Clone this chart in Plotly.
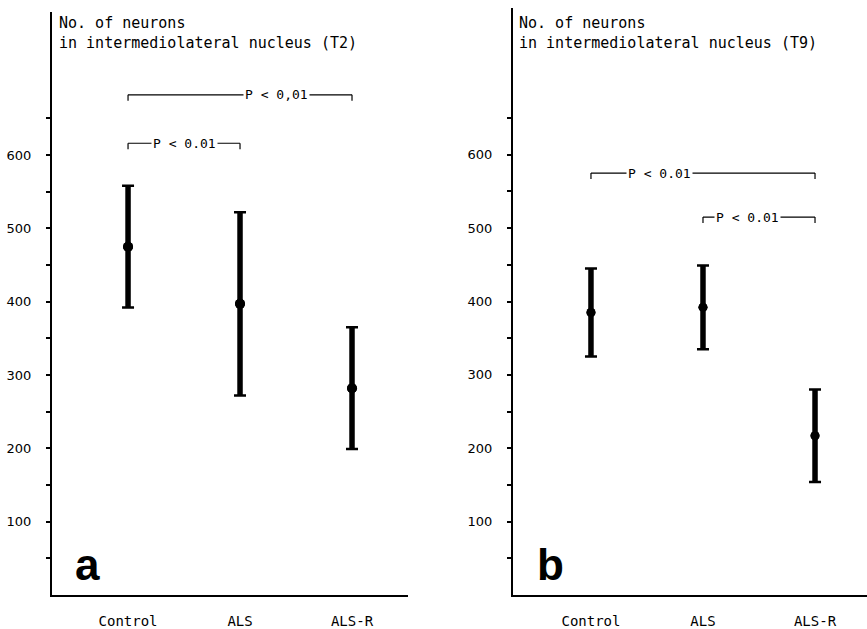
import plotly.graph_objects as go

W, H = 867, 629

categories = ["Control", "ALS", "ALS-R"]
x_pos = [0, 1, 2]

# Panel a (T2)
means_a = [475, 397, 282]
errs_a = [83, 125, 83]
# Panel b (T9)
means_b = [385, 392, 217]
errs_b = [60, 57, 63]

y_tickvals = [50, 100, 150, 200, 250, 300, 350, 400, 450, 500, 550, 600, 650]
y_ticktext = ["", "100", "", "200", "", "300", "", "400", "", "500", "", "600", ""]

# brackets: (x_start, x_end, y_level, label, label_x)
brackets_a = [(0, 2, 682, "P < 0,01", 1.33), (0, 1, 616, "P < 0.01", 0.5)]
brackets_b = [(0, 2, 575, "P < 0.01", 0.61), (1, 2, 515, "P < 0.01", 1.40)]

titles = ["No. of neurons<br>in intermediolateral nucleus (T2)",
          "No. of neurons<br>in intermediolateral nucleus (T9)"]
letters = ["a", "b"]


def px(x):
    return x / W


def py(y):
    return 1 - y / H


fig = go.Figure()

for means, errs, xa, ya, dot in [(means_a, errs_a, "x", "y", 10), (means_b, errs_b, "x2", "y2", 9)]:
    # thick vertical bar
    fig.add_trace(go.Scatter(
        x=x_pos, y=means, xaxis=xa, yaxis=ya, mode="markers",
        marker=dict(color="black", size=dot),
        error_y=dict(type="data", array=errs, visible=True, thickness=5.5, width=0, color="black"),
        showlegend=False, hoverinfo="skip"))
    # caps
    fig.add_trace(go.Scatter(
        x=x_pos, y=means, xaxis=xa, yaxis=ya, mode="markers",
        marker=dict(color="black", size=dot),
        error_y=dict(type="data", array=errs, visible=True, thickness=2.5, width=6, color="black"),
        showlegend=False, hoverinfo="skip"))

shapes = []
annotations = []
for brackets, xr, yr in [(brackets_a, "x", "y"), (brackets_b, "x2", "y2")]:
    for x0, x1, yl, lab, lx in brackets:
        shapes.append(dict(type="line", xref=xr, yref=yr, x0=x0, x1=x1, y0=yl, y1=yl,
                           line=dict(color="black", width=1.2)))
        for xe in (x0, x1):
            shapes.append(dict(type="line", xref=xr, yref=yr, x0=xe, x1=xe, y0=yl, y1=yl - 8,
                               line=dict(color="black", width=1.2)))
        annotations.append(dict(x=lx, y=yl, xref=xr, yref=yr, text=lab, showarrow=False,
                                bgcolor="white", borderpad=1,
                                font=dict(family="DejaVu Sans Mono", size=13, color="black")))

# y-axis titles (top-left)
for title, x0 in zip(titles, [57, 517]):
    annotations.append(dict(x=px(x0), y=py(12), xref="paper", yref="paper", text=title,
                            showarrow=False, xanchor="left", yanchor="top", align="left",
                            font=dict(family="DejaVu Sans Mono", size=15, color="black")))

# panel letters
for lt, x0 in zip(letters, [73, 535]):
    annotations.append(dict(x=px(x0), y=py(564), xref="paper", yref="paper", text="<b>%s</b>" % lt,
                            showarrow=False, xanchor="left", yanchor="middle",
                            font=dict(family="Liberation Sans", size=44, color="black")))

axis_common_y = dict(showline=True, linecolor="black", linewidth=2, ticks="outside", ticklen=4,
                     tickwidth=1.5, tickcolor="black", tickvals=y_tickvals, ticktext=y_ticktext,
                     showgrid=False, zeroline=False,
                     tickfont=dict(family="DejaVu Sans", size=13, color="black"),
                     ticklabelstandoff=12)
axis_common_x = dict(showline=True, linecolor="black", linewidth=1.5, ticks="", showgrid=False,
                     zeroline=False, tickvals=x_pos, ticktext=categories,
                     tickfont=dict(family="DejaVu Sans Mono", size=14, color="black"),
                     ticklabelstandoff=12)

fig.update_layout(
    width=W, height=H, margin=dict(l=0, r=0, t=0, b=0),
    paper_bgcolor="white", plot_bgcolor="white",
    xaxis=dict(domain=[px(52), px(408)], range=[-0.679, 2.5], anchor="y", **axis_common_x),
    yaxis=dict(domain=[py(595), py(12)], range=[0, 795], anchor="x", **axis_common_y),
    xaxis2=dict(domain=[px(513), 1.0], range=[-0.696, 2.464], anchor="y2", **axis_common_x),
    yaxis2=dict(domain=[py(595), py(8)], range=[0, 800], anchor="x2", **axis_common_y),
    shapes=shapes, annotations=annotations, hovermode=False,
)

fig.write_html("out.html", config={"displayModeBar": False},
               post_script="document.body.style.margin='0';document.body.style.overflow='hidden';")
